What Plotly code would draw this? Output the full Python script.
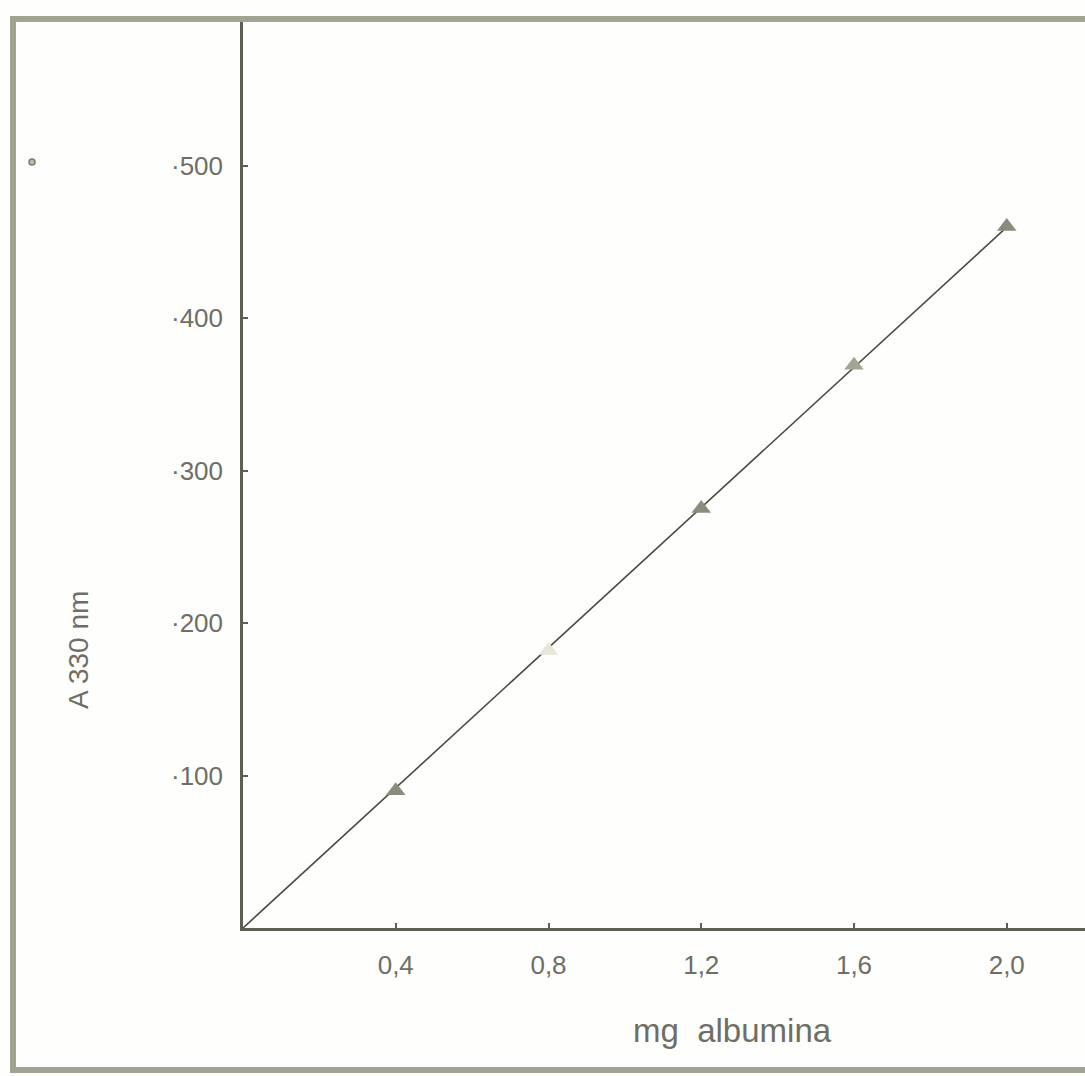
import plotly.graph_objects as go

# Calibration data: absorbance at 330 nm vs. amount of albumin
mg_albumina = [0.4, 0.8, 1.2, 1.6, 2.0]
absorbance = [0.090, 0.182, 0.275, 0.369, 0.460]
marker_colors = ["#8c8c7c", "#e8e6d8", "#8c8c7c", "#a4a496", "#8c8c7c"]

x_tick_vals = [0.4, 0.8, 1.2, 1.6, 2.0]
x_tick_text = ["0,4", "0,8", "1,2", "1,6", "2,0"]
y_tick_vals = [0.1, 0.2, 0.3, 0.4, 0.5]
y_tick_text = ["·100", "·200", "·300", "·400", "·500"]

# Least-squares line through the origin
slope = sum(x * y for x, y in zip(mg_albumina, absorbance)) / sum(x * x for x in mg_albumina)
fit_x = [0.0, max(mg_albumina)]
fit_y = [slope * x for x in fit_x]

ink = "#5e5e52"
text_col = "#6e6e66"
frame_col = "#a3a392"

fig = go.Figure()
fig.add_trace(go.Scatter(
    x=fit_x, y=fit_y, mode="lines",
    line=dict(color="#4a4a40", width=1.6),
    hoverinfo="skip", showlegend=False,
))
fig.add_trace(go.Scatter(
    x=mg_albumina, y=absorbance, mode="markers",
    marker=dict(symbol="triangle-up", size=17, color=marker_colors,
                line=dict(width=0)),
    showlegend=False,
))

W, H = 1085, 1076
left, top, bottom = 243, 22, 148
plot_w = W - left
plot_h = H - top - bottom
px_per_unit_x = 152.75 / 0.4
px_per_unit_y = 1525.0

fig.update_layout(
    width=W, height=H,
    margin=dict(l=left, r=0, t=top, b=bottom),
    paper_bgcolor="#fefefc", plot_bgcolor="#fefefc",
    font=dict(family="Liberation Sans, Arial, sans-serif", color=text_col),
    xaxis=dict(
        range=[0, plot_w / px_per_unit_x],
        tickvals=x_tick_vals, ticktext=x_tick_text,
        ticks="inside", ticklen=5, tickwidth=1.5, tickcolor=ink,
        showline=True, linecolor=ink, linewidth=2.5,
        showgrid=False, zeroline=False,
        tickfont=dict(size=26, color=text_col),
        ticklabelstandoff=12,
    ),
    yaxis=dict(
        range=[0, plot_h / px_per_unit_y],
        tickvals=y_tick_vals, ticktext=y_tick_text,
        ticks="inside", ticklen=5, tickwidth=1.5, tickcolor=ink,
        showline=True, linecolor=ink, linewidth=2.5,
        showgrid=False, zeroline=False,
        tickfont=dict(size=26, color=text_col),
        ticklabelstandoff=12,
    ),
    annotations=[
        dict(text="mg  albumina", xref="paper", yref="paper",
             x=(732 - left) / plot_w, y=-(1030 - (H - bottom)) / plot_h,
             xanchor="center", yanchor="middle", showarrow=False,
             font=dict(size=33, color=text_col)),
        dict(text="A 330 nm", xref="paper", yref="paper",
             x=(78 - left) / plot_w, y=(H - bottom - 650) / plot_h,
             xanchor="center", yanchor="middle", showarrow=False,
             textangle=-90, font=dict(size=28, color=text_col)),
    ],
    shapes=[
        # outer frame of the printed figure
        dict(type="rect", xref="paper", yref="paper",
             x0=-(left - 13) / plot_w, x1=1.0 + 6 / plot_w,
             y0=-(1070 - (H - bottom)) / plot_h, y1=1.0 + 3 / plot_h,
             line=dict(color=frame_col, width=6), layer="above"),
        dict(type="circle", xref="paper", yref="paper",
             x0=(29 - left) / plot_w, x1=(35 - left) / plot_w,
             y0=(H - bottom - 165) / plot_h, y1=(H - bottom - 159) / plot_h,
             line=dict(color="#7a7a6c", width=1.5), fillcolor="#bdbdb0"),
    ],
)

fig.write_html("out.html")
